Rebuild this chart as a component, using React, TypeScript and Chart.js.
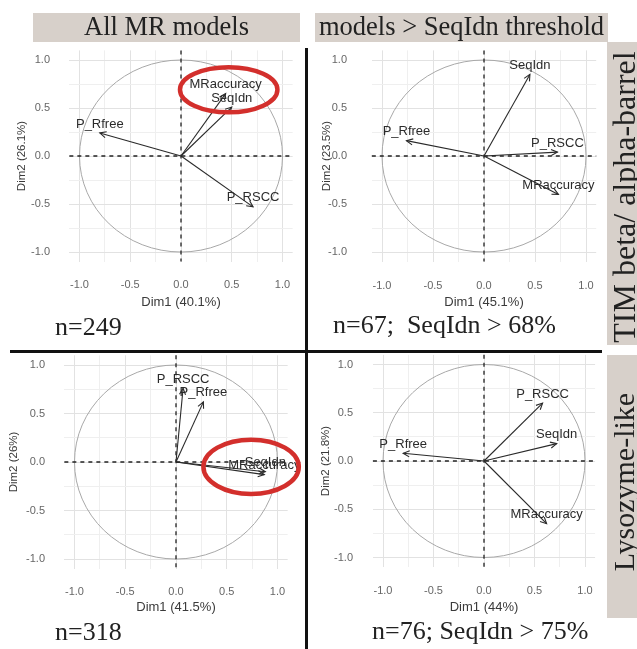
import React, { useEffect, useRef } from "react";
import { Chart, registerables } from "chart.js";

Chart.register(...registerables);

// ---------------- data ----------------
const headerLeft = "All MR models";
const headerRight = "models > SeqIdn threshold";
const rowLabelTop = "TIM beta/ alpha-barrel";
const rowLabelBottom = "Lysozyme-like";

const majorTicks = [-1, -0.5, 0, 0.5, 1];

// Top-left: TIM, all MR models
const tlNames = ["P_Rfree", "MRaccuracy", "SeqIdn", "P_RSCC"];
const tlDim1 = [-0.8, 0.44, 0.5, 0.71];
const tlDim2 = [0.24, 0.65, 0.51, -0.53];
const tlXTitle = "Dim1 (40.1%)";
const tlYTitle = "Dim2 (26.1%)";
const tlCount = "n=249";

// Top-right: TIM, models > SeqIdn threshold
const trNames = ["SeqIdn", "P_Rfree", "P_RSCC", "MRaccuracy"];
const trDim1 = [0.45, -0.76, 0.72, 0.73];
const trDim2 = [0.85, 0.16, 0.04, -0.4];
const trXTitle = "Dim1 (45.1%)";
const trYTitle = "Dim2 (23.5%)";
const trCount = "n=67;  SeqIdn > 68%";

// Bottom-left: Lysozyme-like, all MR models
const blNames = ["P_RSCC", "P_Rfree", "SeqIdn", "MRaccuracy"];
const blDim1 = [0.07, 0.27, 0.88, 0.87];
const blDim2 = [0.76, 0.62, -0.1, -0.13];
const blXTitle = "Dim1 (41.5%)";
const blYTitle = "Dim2 (26%)";
const blCount = "n=318";

// Bottom-right: Lysozyme-like, models > SeqIdn threshold
const brNames = ["P_RSCC", "SeqIdn", "P_Rfree", "MRaccuracy"];
const brDim1 = [0.58, 0.72, -0.8, 0.62];
const brDim2 = [0.6, 0.18, 0.08, -0.65];
const brXTitle = "Dim1 (44%)";
const brYTitle = "Dim2 (21.8%)";
const brCount = "n=76; SeqIdn > 75%";

// highlighted groups (red rings), in data units: centre x, centre y, radius x, radius y
const tlHighlight = [0.47, 0.69, 0.48, 0.235];
const blHighlight = [0.74, -0.05, 0.47, 0.28];

// ---------------- layout ----------------
const SANS = "'Liberation Sans', Arial, sans-serif";
const SERIF = "'Liberation Serif', 'Times New Roman', serif";
const TICK_FONT = 11;
const YTITLE_FONT = 11.5;
const XTITLE_FONT = 13;
const BOX_BG = "#d7d0ca";

type Layout = {
  cx: number; cy: number; sx: number; sy: number;
  yLabelRight: number; yTitleX: number; xLabelY: number; xTitleY: number;
};

const layoutTL: Layout = { cx: 181, cy: 156, sx: 101.5, sy: 96, yLabelRight: 50, yTitleX: 22, xLabelY: 285, xTitleY: 302 };
const layoutTR: Layout = { cx: 484, cy: 156, sx: 102, sy: 96, yLabelRight: 347, yTitleX: 327, xLabelY: 286, xTitleY: 302 };
const layoutBL: Layout = { cx: 176, cy: 462, sx: 101.5, sy: 97, yLabelRight: 45, yTitleX: 14, xLabelY: 592, xTitleY: 607 };
const layoutBR: Layout = { cx: 484, cy: 461, sx: 101, sy: 96.5, yLabelRight: 353, yTitleX: 326, xLabelY: 591, xTitleY: 607 };

function geom(l: Layout) {
  const L = l.cx - 1.1 * l.sx;
  const R = l.cx + 1.1 * l.sx;
  const T = l.cy - 1.1 * l.sy;
  const B = l.cy + 1.1 * l.sy;
  const yWidth = L - l.yTitleX + (YTITLE_FONT * 1.2) / 2;
  const xHeight = l.xTitleY - B + (XTITLE_FONT * 1.2) / 2;
  const yTickPad = L - l.yLabelRight;
  const xTickPad = l.xLabelY - B - (TICK_FONT * 1.2) / 2;
  const left = Math.round(L - yWidth - 4);
  const top = Math.round(T - 34);
  const width = Math.round(R + 34 - left);
  const height = Math.round(B + xHeight + 4 - top);
  return {
    yWidth, xHeight, yTickPad, xTickPad, left, top, width, height,
    pad: {
      left: L - yWidth - left,
      top: T - top,
      right: left + width - R,
      bottom: top + height - B - xHeight,
    },
  };
}

const isMajor = (v: number) => majorTicks.some((t) => Math.abs(t - v) < 1e-9);

const decorPlugin = {
  id: "pcaDecor",
  beforeDatasetsDraw(chart: any) {
    const { ctx, chartArea, scales } = chart;
    const x = scales.x, y = scales.y;
    const x0 = x.getPixelForValue(0), y0 = y.getPixelForValue(0);
    const rx = x.getPixelForValue(1) - x0;
    const ry = y0 - y.getPixelForValue(1);
    ctx.save();
    ctx.strokeStyle = "#a8a8a8";
    ctx.lineWidth = 1;
    ctx.beginPath();
    ctx.ellipse(x0, y0, rx, ry, 0, 0, Math.PI * 2);
    ctx.stroke();
    ctx.strokeStyle = "#222";
    ctx.lineWidth = 1.3;
    ctx.setLineDash([4, 4]);
    ctx.beginPath();
    ctx.moveTo(chartArea.left, y0);
    ctx.lineTo(chartArea.right, y0);
    ctx.moveTo(x0, chartArea.top);
    ctx.lineTo(x0, chartArea.bottom);
    ctx.stroke();
    ctx.restore();
  },
  afterDatasetsDraw(chart: any, _args: any, opts: any) {
    const { ctx, scales } = chart;
    const x = scales.x, y = scales.y;
    ctx.save();
    chart.data.datasets.forEach((ds: any, i: number) => {
      const meta = chart.getDatasetMeta(i);
      const p0 = meta.data[0], p1 = meta.data[1];
      const ang = Math.atan2(p1.y - p0.y, p1.x - p0.x);
      const len = 7, spread = Math.PI / 7;
      ctx.strokeStyle = "#2a2a2a";
      ctx.lineWidth = 1.1;
      ctx.beginPath();
      ctx.moveTo(p1.x - len * Math.cos(ang - spread), p1.y - len * Math.sin(ang - spread));
      ctx.lineTo(p1.x, p1.y);
      ctx.lineTo(p1.x - len * Math.cos(ang + spread), p1.y - len * Math.sin(ang + spread));
      ctx.stroke();
      ctx.fillStyle = "#2b2b2b";
      ctx.font = `13px ${SANS}`;
      ctx.textAlign = "center";
      ctx.textBaseline = "middle";
      ctx.fillText(ds.label, p1.x, p1.y - 9);
    });
    const h = opts && opts.highlight;
    if (h) {
      const cx = x.getPixelForValue(h[0]);
      const cy = y.getPixelForValue(h[1]);
      const rx = x.getPixelForValue(h[0] + h[2]) - cx;
      const ry = cy - y.getPixelForValue(h[1] + h[3]);
      ctx.strokeStyle = "#d32f2c";
      ctx.lineWidth = 4.5;
      ctx.beginPath();
      ctx.ellipse(cx, cy, rx, ry, 0, 0, Math.PI * 2);
      ctx.stroke();
    }
    ctx.restore();
  },
};

type PanelProps = {
  names: string[]; d1: number[]; d2: number[];
  xTitle: string; yTitle: string; layout: Layout; highlight?: number[];
};

function PcaPanel({ names, d1, d2, xTitle, yTitle, layout, highlight }: PanelProps) {
  const ref = useRef<HTMLCanvasElement>(null);
  const g = geom(layout);
  useEffect(() => {
    if (!ref.current) return;
    const tickCb = (v: any) => (isMajor(Number(v)) ? Number(v).toFixed(1) : "");
    const gridColor = (c: any) => (c.tick && isMajor(c.tick.value) ? "#e2e2e2" : "#efefef");
    const chart = new Chart(ref.current, {
      type: "scatter",
      data: {
        datasets: names.map((n, i) => ({
          label: n,
          data: [{ x: 0, y: 0 }, { x: d1[i], y: d2[i] }],
          showLine: true,
          borderColor: "#2a2a2a",
          borderWidth: 1.1,
          pointRadius: 0,
          pointHoverRadius: 0,
          fill: false,
        })),
      },
      options: {
        responsive: false,
        animation: false,
        events: [],
        layout: { padding: g.pad },
        plugins: {
          legend: { display: false },
          tooltip: { enabled: false },
          pcaDecor: { highlight },
        } as any,
        scales: {
          x: {
            type: "linear",
            min: -1.1,
            max: 1.1,
            ticks: {
              stepSize: 0.25,
              includeBounds: false,
              autoSkip: false,
              maxRotation: 0,
              padding: g.xTickPad,
              color: "#666",
              font: { family: SANS, size: TICK_FONT },
              callback: tickCb,
            },
            grid: { color: gridColor, lineWidth: 1, drawTicks: false },
            border: { display: false },
            title: {
              display: true,
              text: xTitle,
              color: "#3a3a3a",
              padding: 0,
              font: { family: SANS, size: XTITLE_FONT },
            },
            afterFit: (s: any) => { s.height = g.xHeight; },
          },
          y: {
            type: "linear",
            min: -1.1,
            max: 1.1,
            ticks: {
              stepSize: 0.25,
              includeBounds: false,
              autoSkip: false,
              padding: g.yTickPad,
              color: "#666",
              font: { family: SANS, size: TICK_FONT },
              callback: tickCb,
            },
            grid: { color: gridColor, lineWidth: 1, drawTicks: false },
            border: { display: false },
            title: {
              display: true,
              text: yTitle,
              color: "#3a3a3a",
              padding: 0,
              font: { family: SANS, size: YTITLE_FONT },
            },
            afterFit: (s: any) => { s.width = g.yWidth; },
          },
        },
      } as any,
      plugins: [decorPlugin],
    });
    return () => chart.destroy();
  }, []);
  return (
    <canvas
      ref={ref}
      width={g.width}
      height={g.height}
      style={{ position: "absolute", left: g.left, top: g.top, width: g.width, height: g.height }}
    />
  );
}

const headerStyle = (left: number, width: number): React.CSSProperties => ({
  position: "absolute",
  left,
  top: 13,
  width,
  height: 29,
  background: BOX_BG,
  color: "#222",
  fontFamily: SERIF,
  fontSize: 26.5,
  lineHeight: "27px",
  textAlign: "center",
  whiteSpace: "nowrap",
});

const sideText = (cy: number, size: number): React.CSSProperties => ({
  position: "absolute",
  left: 624,
  top: cy,
  transform: "translate(-50%, -50%) rotate(-90deg)",
  fontFamily: SERIF,
  fontSize: size,
  lineHeight: "30px",
  color: "#222",
  whiteSpace: "nowrap",
});

const countStyle = (left: number, top: number): React.CSSProperties => ({
  position: "absolute",
  left,
  top,
  fontFamily: SERIF,
  fontSize: 26,
  lineHeight: "26px",
  color: "#222",
  whiteSpace: "pre",
});

export default function App() {
  return (
    <div
      style={{
        position: "absolute",
        left: 0,
        top: 0,
        width: 637,
        height: 649,
        background: "#fff",
        overflow: "hidden",
      }}
    >
      <PcaPanel names={tlNames} d1={tlDim1} d2={tlDim2} xTitle={tlXTitle} yTitle={tlYTitle} layout={layoutTL} highlight={tlHighlight} />
      <PcaPanel names={trNames} d1={trDim1} d2={trDim2} xTitle={trXTitle} yTitle={trYTitle} layout={layoutTR} />
      <PcaPanel names={blNames} d1={blDim1} d2={blDim2} xTitle={blXTitle} yTitle={blYTitle} layout={layoutBL} highlight={blHighlight} />
      <PcaPanel names={brNames} d1={brDim1} d2={brDim2} xTitle={brXTitle} yTitle={brYTitle} layout={layoutBR} />

      <div style={headerStyle(33, 267)}>{headerLeft}</div>
      <div style={headerStyle(315, 293)}>{headerRight}</div>

      <div style={countStyle(55, 314)}>{tlCount}</div>
      <div style={countStyle(333, 312)}>{trCount}</div>
      <div style={countStyle(55, 619)}>{blCount}</div>
      <div style={countStyle(372, 618)}>{brCount}</div>

      <div style={{ position: "absolute", left: 607, top: 42, width: 30, height: 303, background: BOX_BG }} />
      <div style={{ position: "absolute", left: 607, top: 355, width: 30, height: 263, background: BOX_BG }} />
      <div style={sideText(197, 32)}>{rowLabelTop}</div>
      <div style={sideText(482, 30)}>{rowLabelBottom}</div>

      <div style={{ position: "absolute", left: 305, top: 48, width: 3, height: 601, background: "#111" }} />
      <div style={{ position: "absolute", left: 10, top: 350, width: 592, height: 3, background: "#111" }} />
    </div>
  );
}
